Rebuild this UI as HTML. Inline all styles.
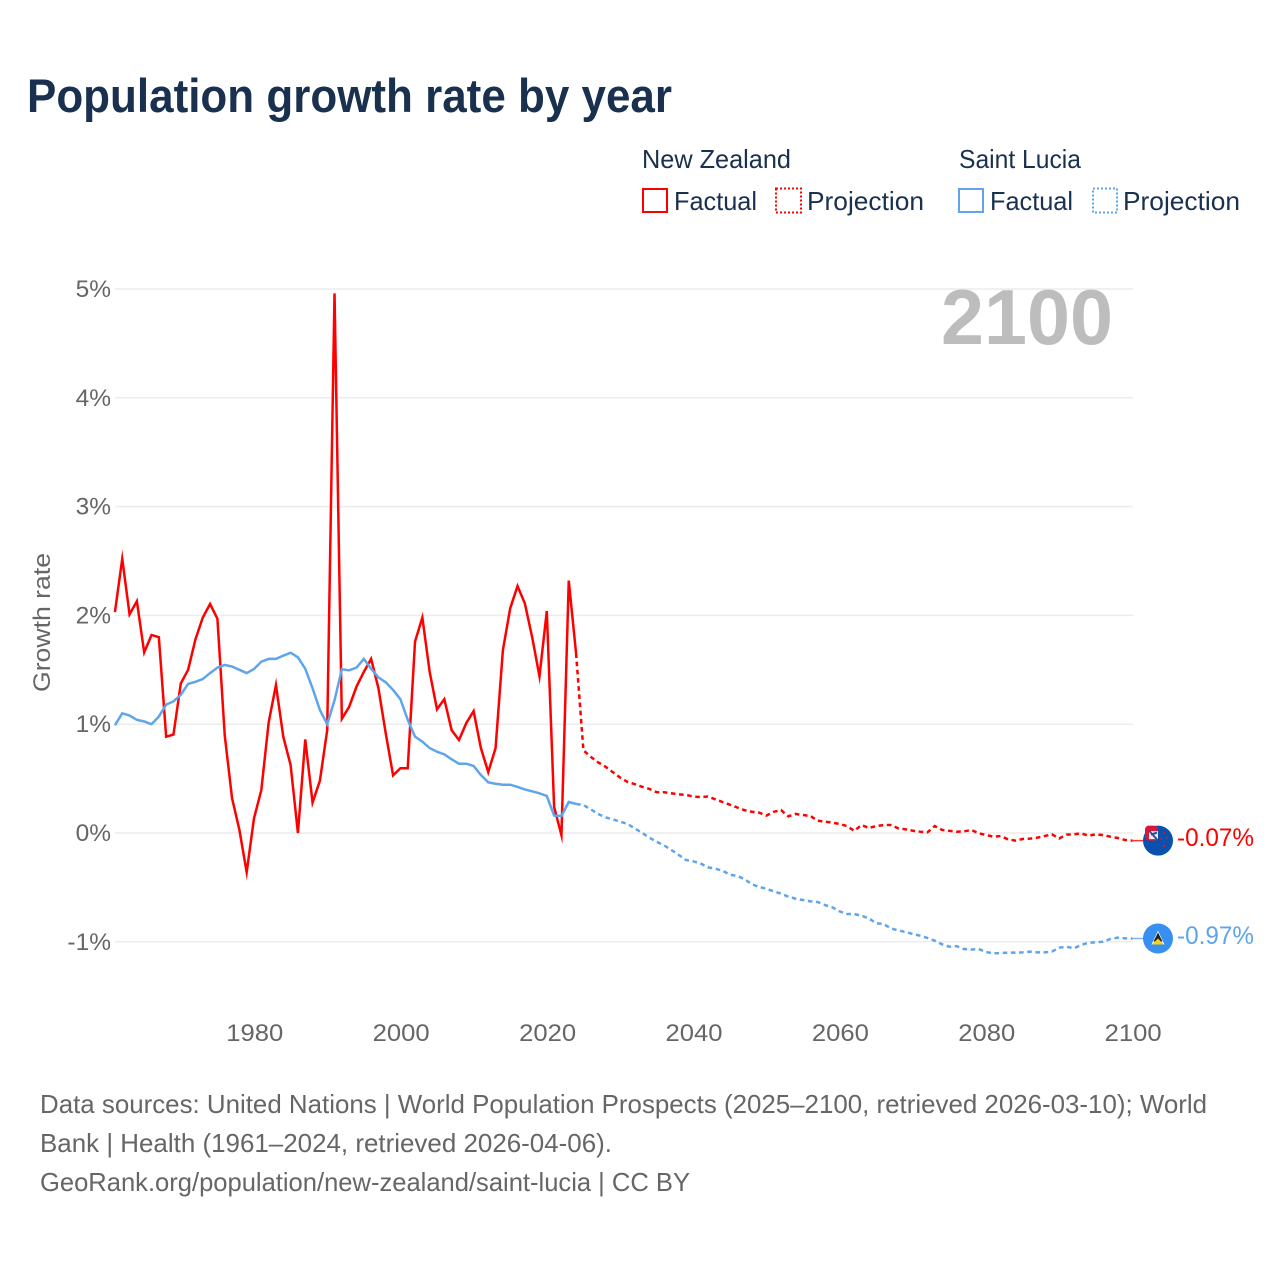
<!DOCTYPE html>
<html lang="en">
<head>
<meta charset="utf-8">
<title>Population growth rate by year</title>
<style>
html,body{margin:0;padding:0;background:#fff;width:1280px;height:1280px;overflow:hidden}
svg{display:block}
text{font-family:"Liberation Sans",sans-serif}
</style>
</head>
<body>
<svg id="chart" xmlns="http://www.w3.org/2000/svg" width="1280" height="1280" viewBox="0 0 1280 1280">
  <rect x="0" y="0" width="1280" height="1280" fill="#fff"/>
  <text x="27" y="112" font-size="47" font-weight="700" fill="#19304f" textLength="645" lengthAdjust="spacingAndGlyphs">Population growth rate by year</text>

  <g font-size="26" fill="#19304f">
    <text x="642" y="168" textLength="149" lengthAdjust="spacingAndGlyphs">New Zealand</text>
    <text x="959" y="168" textLength="122" lengthAdjust="spacingAndGlyphs">Saint Lucia</text>
    <rect x="643" y="189" width="24" height="23" fill="none" stroke="#ff0000" stroke-width="2"/>
    <text x="674" y="210" textLength="83" lengthAdjust="spacingAndGlyphs">Factual</text>
    <rect x="776" y="188.5" width="25" height="24" fill="none" stroke="#ff0000" stroke-width="2" stroke-dasharray="2 2"/>
    <text x="807" y="210" textLength="117" lengthAdjust="spacingAndGlyphs">Projection</text>
    <rect x="959" y="189" width="24" height="23" fill="none" stroke="#5ea5ec" stroke-width="2"/>
    <text x="990" y="210" textLength="83" lengthAdjust="spacingAndGlyphs">Factual</text>
    <rect x="1093" y="188.5" width="24" height="24" fill="none" stroke="#5ea5ec" stroke-width="2" stroke-dasharray="2 2"/>
    <text x="1123" y="210" textLength="117" lengthAdjust="spacingAndGlyphs">Projection</text>
  </g>

  <g id="grid"></g>
  <g id="ylabels"></g>
  <g id="xlabels"></g>
  <text transform="translate(50,692) rotate(-90)" font-size="24.5" fill="#666" textLength="139" lengthAdjust="spacingAndGlyphs">Growth rate</text>
  <text x="1113" y="344" text-anchor="end" font-size="78" font-weight="700" fill="#bdbdbd" textLength="172" lengthAdjust="spacingAndGlyphs">2100</text>

  <g id="series"></g>

  <g id="nz-flag">
    <circle r="15" fill="#0a50ad"/>
    <rect x="-13" y="-15" width="13" height="15" rx="4" fill="#d8163a"/>
    <rect x="-9" y="-9.5" width="9" height="8" fill="#f4e8ea"/>
    <path d="M-9,-10 L0,0 M-7,-6 L-1,-8" stroke="#2a4fa0" stroke-width="2" fill="none"/>
    <circle cx="6" cy="-8" r="1" fill="#c5203c"/>
    <circle cx="3" cy="-2" r="1" fill="#c5203c"/>
    <circle cx="9" cy="-3" r="1" fill="#c5203c"/>
    <circle cx="6" cy="5" r="1.3" fill="#c5203c"/>
  </g>
  <g id="lc-flag">
    <circle r="15" fill="#368ff1"/>
    <path d="M0,-8 L6.5,6 L-6.5,6 Z" fill="#f4f4f4"/>
    <path d="M0,-6 L4.5,3 L-4.5,3 Z" fill="#222"/>
    <path d="M0,0 L6,6 L-6,6 Z" fill="#fbd116"/>
  </g>
  <text id="nz-value" x="1177" y="846" font-size="25" fill="#ff0000" textLength="77" lengthAdjust="spacingAndGlyphs"></text>
  <text id="lc-value" x="1177" y="944" font-size="25" fill="#5ea5ec" textLength="77" lengthAdjust="spacingAndGlyphs"></text>

  <g font-size="26" fill="#666">
    <text x="40" y="1113" textLength="1167" lengthAdjust="spacingAndGlyphs">Data sources: United Nations | World Population Prospects (2025–2100, retrieved 2026-03-10); World</text>
    <text x="40" y="1152" textLength="572" lengthAdjust="spacingAndGlyphs">Bank | Health (1961–2024, retrieved 2026-04-06).</text>
    <text x="40" y="1191" textLength="650" lengthAdjust="spacingAndGlyphs">GeoRank.org/population/new-zealand/saint-lucia | CC BY</text>
  </g>
</svg>
<script>
const factualStartYear = 1961;
const projectionStartYear = 2024;
const yTicks = [-1, 0, 1, 2, 3, 4, 5];
const xTicks = [1980, 2000, 2020, 2040, 2060, 2080, 2100];
const nzFactual = [2.03,2.52,2.01,2.13,1.66,1.82,1.80,0.885,0.905,1.375,1.50,1.78,1.98,2.105,1.97,0.90,0.32,0.03,-0.36,0.135,0.395,1.015,1.36,0.885,0.625,0.0,0.86,0.28,0.48,0.945,4.96,1.05,1.16,1.345,1.48,1.60,1.33,0.915,0.53,0.595,0.595,1.76,1.98,1.48,1.137,1.23,0.945,0.855,1.01,1.12,0.78,0.56,0.78,1.68,2.065,2.27,2.11,1.80,1.44,2.04,0.24,-0.02,2.32,1.65];
const nzProjection = [1.65,0.76,0.70,0.65,0.61,0.56,0.51,0.47,0.45,0.425,0.405,0.375,0.375,0.365,0.355,0.35,0.335,0.33,0.335,0.31,0.285,0.26,0.235,0.21,0.195,0.187,0.16,0.195,0.21,0.153,0.175,0.165,0.157,0.113,0.104,0.095,0.083,0.064,0.02,0.073,0.046,0.064,0.073,0.073,0.043,0.034,0.021,0.012,0.006,0.064,0.028,0.02,0.012,0.015,0.028,-0.003,-0.018,-0.034,-0.028,-0.058,-0.07,-0.055,-0.052,-0.043,-0.028,-0.012,-0.05,-0.015,-0.012,-0.003,-0.025,-0.012,-0.02,-0.034,-0.046,-0.064,-0.07];
const lcFactual = [0.99,1.10,1.08,1.04,1.025,1.0,1.07,1.18,1.21,1.27,1.37,1.39,1.415,1.47,1.52,1.545,1.53,1.50,1.47,1.507,1.575,1.60,1.60,1.63,1.657,1.615,1.51,1.33,1.13,1.0,1.22,1.505,1.495,1.52,1.60,1.51,1.43,1.385,1.315,1.23,1.04,0.885,0.84,0.78,0.747,0.723,0.677,0.637,0.637,0.616,0.533,0.466,0.453,0.444,0.444,0.423,0.40,0.383,0.365,0.34,0.16,0.157,0.285,0.267];
const lcProjection = [0.267,0.257,0.218,0.175,0.144,0.126,0.104,0.085,0.043,0.003,-0.043,-0.08,-0.113,-0.156,-0.20,-0.248,-0.26,-0.28,-0.315,-0.328,-0.346,-0.383,-0.395,-0.423,-0.47,-0.496,-0.512,-0.536,-0.558,-0.585,-0.604,-0.616,-0.628,-0.634,-0.662,-0.683,-0.72,-0.745,-0.745,-0.76,-0.785,-0.83,-0.836,-0.876,-0.895,-0.91,-0.928,-0.944,-0.965,-0.99,-1.023,-1.045,-1.04,-1.066,-1.072,-1.066,-1.094,-1.106,-1.103,-1.10,-1.10,-1.097,-1.09,-1.097,-1.097,-1.09,-1.054,-1.045,-1.06,-1.03,-1.008,-1.005,-0.999,-0.974,-0.962,-0.968,-0.97];
const nzLatestLabel = "-0.07%";
const lcLatestLabel = "-0.97%";

const SVGNS = "http://www.w3.org/2000/svg";
function xScale(year) { return 400.4 + (year - 2000) * 7.32; }
function yScale(value) { return 833 - value * 108.8; }

function linePoints(values, startYear) {
  return values.map(function (v, i) {
    return xScale(startYear + i).toFixed(2) + "," + yScale(v).toFixed(2);
  }).join(" ");
}

const gridGroup = document.getElementById("grid");
const yLabelGroup = document.getElementById("ylabels");
const xLabelGroup = document.getElementById("xlabels");
const seriesGroup = document.getElementById("series");

yTicks.forEach(function (t) {
  const line = document.createElementNS(SVGNS, "line");
  
  
  line.setAttribute("x1", 115);
  line.setAttribute("x2", 1133);
  line.setAttribute("y1", yScale(t));
  line.setAttribute("y2", yScale(t));
  line.setAttribute("stroke", "#ececec");
  line.setAttribute("stroke-width", "1.5");
  gridGroup.appendChild(line);

  const label = document.createElementNS(SVGNS, "text");
  
  
  label.setAttribute("x", 111);
  label.setAttribute("y", yScale(t) + 8);
  label.setAttribute("text-anchor", "end");
  label.setAttribute("font-size", "24.5");
  label.setAttribute("fill", "#666");
  label.textContent = t + "%";
  yLabelGroup.appendChild(label);
});

xTicks.forEach(function (t) {
  const label = document.createElementNS(SVGNS, "text");
  
  
  label.setAttribute("x", xScale(t) + 0.8);
  label.setAttribute("y", 1041);
  label.setAttribute("text-anchor", "middle");
  label.setAttribute("font-size", "24.5");
  label.setAttribute("fill", "#666");
  label.setAttribute("textLength", "57");
  label.setAttribute("lengthAdjust", "spacingAndGlyphs");
  label.textContent = t;
  xLabelGroup.appendChild(label);
});

function addLine(values, startYear, color, dashed, name) {
  const pl = document.createElementNS(SVGNS, "polyline");
  
  
  pl.setAttribute("points", linePoints(values, startYear));
  pl.setAttribute("fill", "none");
  pl.setAttribute("stroke", color);
  pl.setAttribute("stroke-width", "2.5");
  pl.setAttribute("stroke-linejoin", "miter");
  pl.setAttribute("stroke-miterlimit", "10");
  if (dashed) pl.setAttribute("stroke-dasharray", "4.6 3.6");
  seriesGroup.appendChild(pl);
}

addLine(nzFactual, factualStartYear, "#ff0000", false, "new-zealand-factual-line");
addLine(nzProjection, projectionStartYear, "#ff0000", true, "new-zealand-projection-line");
addLine(lcFactual, factualStartYear, "#5ea5ec", false, "saint-lucia-factual-line");
addLine(lcProjection, projectionStartYear, "#5ea5ec", true, "saint-lucia-projection-line");

function addLead(values, color, name) {
  const last = values[values.length - 1];
  const lead = document.createElementNS(SVGNS, "line");
  
  
  lead.setAttribute("x1", xScale(2100));
  lead.setAttribute("x2", 1150);
  lead.setAttribute("y1", yScale(last));
  lead.setAttribute("y2", yScale(last));
  lead.setAttribute("stroke", color);
  lead.setAttribute("stroke-width", "1.5");
  lead.setAttribute("stroke-opacity", "0.8");
  seriesGroup.appendChild(lead);
}
addLead(nzProjection, "#ff0000", "new-zealand-leader-line");
addLead(lcProjection, "#5ea5ec", "saint-lucia-leader-line");

document.getElementById("nz-flag").setAttribute("transform", "translate(1158," + yScale(nzProjection[nzProjection.length - 1]) + ")");
document.getElementById("lc-flag").setAttribute("transform", "translate(1158," + yScale(lcProjection[lcProjection.length - 1]) + ")");
document.getElementById("nz-value").textContent = nzLatestLabel;
document.getElementById("lc-value").textContent = lcLatestLabel;
</script>
</body>
</html>
